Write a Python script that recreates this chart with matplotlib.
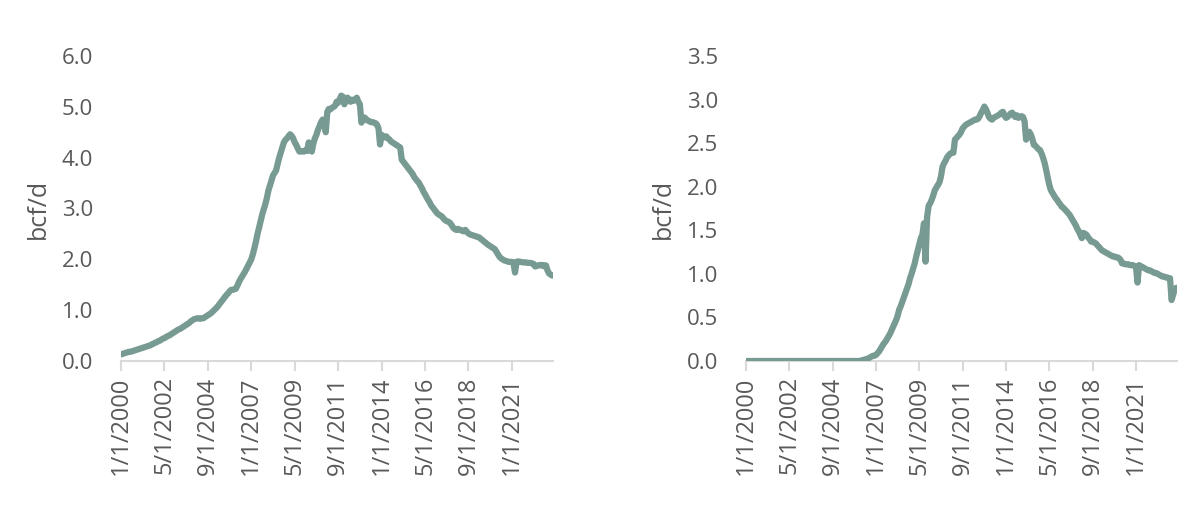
import matplotlib
matplotlib.use("Agg")
import matplotlib.pyplot as plt
import pandas as pd

plt.rcParams['font.family'] = ['Open Sans', 'DejaVu Sans']

# Monthly dates Jan 2000 .. Mar 2023
dates = pd.date_range("2000-01-01", "2023-03-01", freq="MS")
tick_labels = ["1/1/2000", "5/1/2002", "9/1/2004", "1/1/2007", "5/1/2009",
               "9/1/2011", "1/1/2014", "5/1/2016", "9/1/2018", "1/1/2021"]

left_values = [
    0.13, 0.14, 0.15, 0.16, 0.17, 0.18, 0.18, 0.19, 0.20, 0.21, 0.22, 0.23,
    0.24, 0.25, 0.26, 0.27, 0.28, 0.29, 0.30, 0.31, 0.33, 0.34, 0.36, 0.37,
    0.39, 0.40, 0.42, 0.44, 0.45, 0.47, 0.49, 0.50, 0.52, 0.54, 0.56, 0.58,
    0.60, 0.62, 0.63, 0.65, 0.67, 0.69, 0.71, 0.73, 0.75, 0.78, 0.80, 0.82,
    0.83, 0.84, 0.84, 0.83, 0.84, 0.84, 0.86, 0.88, 0.90, 0.92, 0.94, 0.97,
    1.00, 1.03, 1.06, 1.10, 1.14, 1.18, 1.22, 1.26, 1.30, 1.33, 1.37, 1.40,
    1.40, 1.41, 1.42, 1.48, 1.55, 1.61, 1.66, 1.71, 1.76, 1.82, 1.88, 1.94,
    2.00, 2.10, 2.22, 2.35, 2.50, 2.62, 2.75, 2.88, 2.98, 3.08, 3.20, 3.35,
    3.45, 3.55, 3.65, 3.70, 3.75, 3.88, 4.00, 4.10, 4.20, 4.30, 4.35, 4.38,
    4.42, 4.46, 4.43, 4.38, 4.30, 4.25, 4.18, 4.12, 4.12, 4.13, 4.12, 4.15,
    4.13, 4.30, 4.22, 4.12, 4.28, 4.38, 4.45, 4.55, 4.62, 4.70, 4.75, 4.73,
    4.50, 4.90, 4.96, 4.95, 4.98, 5.00, 5.02, 5.10, 5.08, 5.15, 5.22, 5.20,
    5.05, 5.12, 5.18, 5.15, 5.10, 5.14, 5.12, 5.15, 5.18, 5.10, 5.05, 4.69,
    4.75, 4.79, 4.76, 4.73, 4.72, 4.70, 4.70, 4.69, 4.68, 4.65, 4.58, 4.26,
    4.45, 4.42, 4.40, 4.42, 4.38, 4.36, 4.32, 4.30, 4.28, 4.26, 4.24, 4.22,
    4.20, 3.96, 3.92, 3.88, 3.84, 3.80, 3.76, 3.72, 3.68, 3.62, 3.58, 3.54,
    3.51, 3.45, 3.40, 3.33, 3.28, 3.22, 3.17, 3.12, 3.06, 3.02, 2.98, 2.94,
    2.90, 2.88, 2.86, 2.84, 2.80, 2.77, 2.75, 2.74, 2.72, 2.68, 2.63, 2.60,
    2.58, 2.60, 2.58, 2.58, 2.56, 2.55, 2.58, 2.54, 2.51, 2.49, 2.48, 2.47,
    2.46, 2.45, 2.44, 2.43, 2.40, 2.38, 2.35, 2.33, 2.30, 2.28, 2.26, 2.24,
    2.22, 2.20, 2.15, 2.10, 2.05, 2.02, 2.00, 1.98, 1.97, 1.96, 1.95, 1.95,
    1.95, 1.94, 1.74, 1.95, 1.96, 1.95, 1.95, 1.94, 1.94, 1.94, 1.93, 1.93,
    1.93, 1.92, 1.91, 1.86, 1.87, 1.88, 1.89, 1.88, 1.89, 1.86, 1.88, 1.78,
    1.72, 1.70, 1.68,
]

right_values = [0.0] * 75 + [
    0.01, 0.01, 0.02, 0.02, 0.03, 0.04, 0.05, 0.06, 0.06,
    0.07, 0.09, 0.11, 0.14, 0.17, 0.20, 0.22, 0.25, 0.28, 0.31, 0.35, 0.39,
    0.43, 0.47, 0.52, 0.59, 0.63, 0.68, 0.73, 0.78, 0.83, 0.88, 0.95, 1.00,
    1.06, 1.12, 1.20, 1.27, 1.34, 1.41, 1.45, 1.58, 1.14, 1.65, 1.78, 1.81,
    1.85, 1.90, 1.96, 1.99, 2.02, 2.05, 2.12, 2.23, 2.27, 2.30, 2.34, 2.36,
    2.38, 2.39, 2.39, 2.54, 2.56, 2.58, 2.60, 2.63, 2.67, 2.69, 2.71, 2.72,
    2.73, 2.74, 2.75, 2.76, 2.77, 2.77, 2.78, 2.81, 2.85, 2.88, 2.92, 2.89,
    2.85, 2.80, 2.78, 2.77, 2.79, 2.80, 2.81, 2.82, 2.83, 2.85, 2.86, 2.82,
    2.79, 2.80, 2.82, 2.84, 2.85, 2.82, 2.80, 2.82, 2.79, 2.80, 2.81, 2.80,
    2.75, 2.54, 2.62, 2.63, 2.60, 2.55, 2.48, 2.47, 2.45, 2.43, 2.42, 2.38,
    2.33, 2.27, 2.19, 2.10, 2.02, 1.96, 1.93, 1.90, 1.87, 1.85, 1.82, 1.80,
    1.77, 1.76, 1.74, 1.72, 1.70, 1.68, 1.65, 1.62, 1.59, 1.56, 1.52, 1.49,
    1.45, 1.41, 1.47, 1.46, 1.45, 1.42, 1.40, 1.37, 1.37, 1.36, 1.35, 1.33,
    1.31, 1.29, 1.27, 1.26, 1.25, 1.24, 1.23, 1.22, 1.21, 1.20, 1.20, 1.19,
    1.19, 1.18, 1.16, 1.12, 1.12, 1.11, 1.11, 1.11, 1.10, 1.10, 1.10, 1.09,
    1.08, 0.90, 1.10, 1.09, 1.08, 1.07, 1.06, 1.05, 1.04, 1.04, 1.03, 1.02,
    1.01, 1.01, 1.00, 0.99, 0.98, 0.97, 0.97, 0.96, 0.96, 0.95, 0.95, 0.70,
    0.76, 0.82, 0.84,
]

line_color = "#779A93"
text_color = "#595959"
axis_color = "#D9D9D9"

fig = plt.figure(figsize=(11.94, 5.08), dpi=100)
ax_l = fig.add_axes([121 / 1194, 147 / 508, 432 / 1194, 305 / 508])
ax_r = fig.add_axes([746 / 1194, 147 / 508, 431 / 1194, 305 / 508])

n = len(dates)
xs = list(range(n))
tick_pos = list(range(0, n, 28))[:len(tick_labels)]

for ax, vals, ymax, ystep in [(ax_l, left_values, 6.0, 1.0), (ax_r, right_values, 3.5, 0.5)]:
    ax.plot(xs, vals, color=line_color, lw=4.5, solid_capstyle="round",
            solid_joinstyle="round")
    ax.set_xlim(0, n - 0.5)
    ax.set_ylim(0, ymax)
    yt = [round(i * ystep, 1) for i in range(int(round(ymax / ystep)) + 1)]
    ax.set_yticks(yt)
    ax.set_yticklabels([f"{v:.1f}" for v in yt], fontsize=16, color=text_color)
    ax.set_xticks(tick_pos)
    ax.set_xticklabels(tick_labels, rotation=90, fontsize=17, color=text_color)
    for s in ["top", "right", "left"]:
        ax.spines[s].set_visible(False)
    ax.spines["bottom"].set_color(axis_color)
    ax.spines["bottom"].set_linewidth(1.5)
    ax.spines["bottom"].set_zorder(0)
    ax.tick_params(axis="y", length=0, pad=20)
    ax.tick_params(axis="x", length=7, width=1.5, color=axis_color, pad=4)
    ax.set_ylabel("bcf/d", fontsize=18, color=text_color, labelpad=8)

fig.savefig("out.png", dpi=100, facecolor="white")
